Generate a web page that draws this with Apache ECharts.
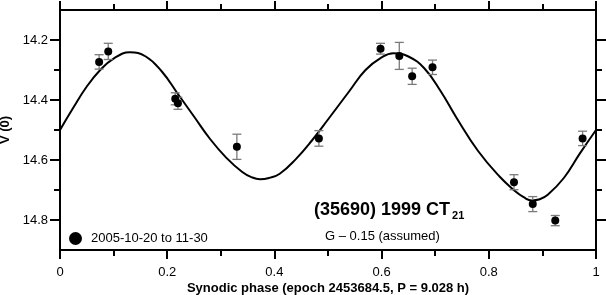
<!DOCTYPE html>
<html><head><meta charset="utf-8">
<script src="https://cdn.jsdelivr.net/npm/echarts@6/dist/echarts.min.js"></script>
<style>html,body{margin:0;padding:0;background:#fff}#c{width:606px;height:295px}</style>
</head><body><div id="c"></div>
<script>
// Observations
const obsPhase = [0.073, 0.090, 0.215, 0.220, 0.330, 0.483, 0.598, 0.633, 0.657, 0.695, 0.847, 0.882, 0.924, 0.975];
const obsMag   = [14.273, 14.238, 14.396, 14.411, 14.556, 14.528, 14.229, 14.253, 14.321, 14.291, 14.674, 14.747, 14.802, 14.528];
const obsErr   = [0.024, 0.027, 0.020, 0.020, 0.042, 0.026, 0.018, 0.045, 0.027, 0.024, 0.025, 0.025, 0.017, 0.024];
// Fourier fit curve
const fitPhase = [0.000, 0.025, 0.050, 0.075, 0.100, 0.130, 0.160, 0.190, 0.220, 0.250, 0.280, 0.310, 0.340, 0.357, 0.373, 0.390, 0.410, 0.440, 0.470, 0.500, 0.540, 0.570, 0.600, 0.622, 0.650, 0.680, 0.710, 0.740, 0.780, 0.820, 0.850, 0.865, 0.880, 0.895, 0.910, 0.940, 0.970, 1.000];
const fitMag   = [14.500, 14.425, 14.355, 14.300, 14.262, 14.241, 14.255, 14.305, 14.380, 14.455, 14.530, 14.592, 14.640, 14.657, 14.664, 14.660, 14.646, 14.597, 14.535, 14.465, 14.370, 14.300, 14.258, 14.244, 14.255, 14.295, 14.370, 14.460, 14.570, 14.655, 14.705, 14.724, 14.735, 14.731, 14.716, 14.660, 14.578, 14.500];
const yMajor = [14.2, 14.4, 14.6, 14.8];
const yMinor = [14.3, 14.5, 14.7];
const legendName = '2005-10-20 to 11-30';
const xTitle = 'Synodic phase (epoch 2453684.5, P = 9.028 h)';
const yTitle = 'V (0)';

const FONT = '"Liberation Sans", Arial, Helvetica, sans-serif';
const chart = echarts.init(document.getElementById('c'), null, {renderer: 'canvas'});

const obsData = obsPhase.map((p, i) => [p, obsMag[i]]);
const errData = obsPhase.map((p, i) => [p, obsMag[i], obsErr[i]]);
const fitData = fitPhase.map((p, i) => [p, fitMag[i]]);

const axisLine = {show: true, lineStyle: {color: '#000', width: 2}};
function xAx(pos, labels) {
  return {
    type: 'value', position: pos, min: 0, max: 1, interval: 0.2,
    axisLine: axisLine,
    axisTick: {show: true, inside: false, length: 9, lineStyle: {color: '#000', width: 2}},
    minorTick: {show: true, splitNumber: 2, length: 6, lineStyle: {color: '#000', width: 2}},
    axisLabel: {show: labels, color: '#000', fontFamily: FONT, fontSize: 13, margin: 16},
    splitLine: {show: false}, minorSplitLine: {show: false},
    name: labels ? xTitle : '', nameLocation: 'middle', nameGap: 32, nameMoveOverlap: false,
    nameTextStyle: {color: '#000', fontFamily: FONT, fontSize: 13, fontWeight: 'bold'}
  };
}
function yAx(pos, major, labels) {
  const vals = major ? yMajor : yMinor;
  return {
    type: 'value', position: pos, inverse: true, min: 14.1, max: 14.9, interval: 0.1,
    axisLine: major ? axisLine : {show: false},
    axisTick: {show: true, inside: false, length: major ? 10 : 6, customValues: vals, lineStyle: {color: '#000', width: 2}},
    axisLabel: {show: labels, customValues: vals, color: '#000', fontFamily: FONT, fontSize: 13, margin: 12,
      formatter: v => Number(v).toFixed(1)},
    splitLine: {show: false},
    name: labels ? yTitle : '', nameLocation: 'middle', nameGap: 43, nameRotate: 90,
    nameTextStyle: {color: '#000', fontFamily: FONT, fontSize: 13, fontWeight: 'bold'}
  };
}

chart.setOption({
  animation: false,
  backgroundColor: '#fff',
  grid: {left: 60, right: 10, top: 10, bottom: 45, containLabel: false, outerBoundsMode: 'none'},
  xAxis: [xAx('bottom', true), xAx('top', false)],
  yAxis: [yAx('left', true, true), yAx('left', false, false), yAx('right', true, false), yAx('right', false, false)],
  legend: {
    show: true, left: 64, top: 227, icon: 'circle', itemWidth: 21, itemHeight: 13, itemGap: 5,
    data: [legendName],
    textStyle: {color: '#000', fontFamily: FONT, fontSize: 13}
  },
  graphic: [
    {type: 'text', left: 314, top: 201, style: {
      text: '(35690) 1999 CT{s|21}', fill: '#000',
      font: 'bold 18px "Liberation Sans", Arial, sans-serif',
      rich: {s: {font: 'bold 11px "Liberation Sans", Arial, sans-serif', fill: '#000', padding: [12, 0, 0, 2]}}
    }},
    {type: 'text', left: 325, top: 230, style: {
      text: 'G \u2013 0.15 (assumed)', fill: '#000', font: '13px "Liberation Sans", Arial, sans-serif'
    }}
  ],
  series: [
    {
      type: 'line', data: fitData, xAxisIndex: 0, yAxisIndex: 0, smooth: 0.45,
      showSymbol: false, lineStyle: {color: '#000', width: 2}, silent: true, z: 2
    },
    {
      type: 'custom', data: errData, xAxisIndex: 0, yAxisIndex: 0, z: 3, silent: true,
      renderItem: function (params, api) {
        const x = api.value(0), y = api.value(1), e = api.value(2);
        const top = api.coord([x, y - e]);
        const bot = api.coord([x, y + e]);
        const hw = 4.5;
        const st = {stroke: '#7a7a7a', lineWidth: 1.3};
        return {type: 'group', children: [
          {type: 'line', shape: {x1: top[0], y1: top[1], x2: bot[0], y2: bot[1]}, style: st},
          {type: 'line', shape: {x1: top[0] - hw, y1: top[1], x2: top[0] + hw, y2: top[1]}, style: st},
          {type: 'line', shape: {x1: bot[0] - hw, y1: bot[1], x2: bot[0] + hw, y2: bot[1]}, style: st}
        ]};
      }
    },
    {
      name: legendName, type: 'scatter', data: obsData, xAxisIndex: 0, yAxisIndex: 0,
      symbol: 'circle', symbolSize: 8, itemStyle: {color: '#000', opacity: 1}, z: 4
    }
  ]
});
</script></body></html>
